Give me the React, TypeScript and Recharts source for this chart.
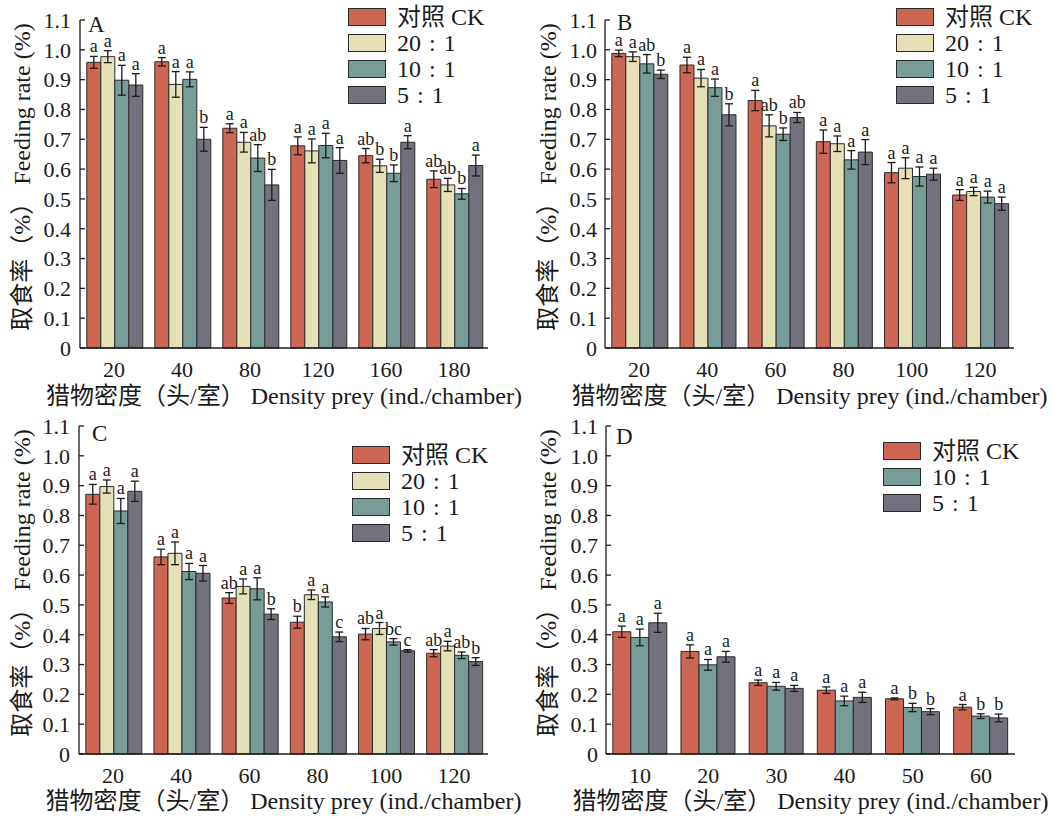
import { BarChart, Bar, XAxis, YAxis, ErrorBar, LabelList, Legend, Label } from "recharts";

const SERIF = "'Liberation Serif', 'Times New Roman', 'Noto Sans CJK SC', serif";
const INK = "#1a1a1a";

const COLORS: Record<string, string> = {
  ck: "#CE6654",
  r20: "#E6E0B6",
  r10: "#779D99",
  r5: "#73717D",
};
const NAMES: Record<string, string> = {
  ck: "对照 CK",
  r20: "20\u2004:\u20041",
  r10: "10\u2004:\u20041",
  r5: "5\u2004:\u20041",
};

const Y_TICKS = [0, 0.1, 0.2, 0.3, 0.4, 0.5, 0.6, 0.7, 0.8, 0.9, 1.0, 1.1];
const Y_TITLE = "取食率（%） Feeding rate (%)";
const X_TITLE = "猎物密度（头/室） Density prey (ind./chamber)";

// A
const densityA = ["20", "40", "80", "120", "160", "180"];
const ckA = [0.958, 0.96, 0.737, 0.678, 0.645, 0.566];
const ckErrA = [0.02, 0.014, 0.015, 0.03, 0.024, 0.028];
const ckSigA = ["a", "a", "a", "a", "ab", "ab"];
const r20A = [0.977, 0.884, 0.69, 0.661, 0.611, 0.547];
const r20ErrA = [0.02, 0.043, 0.033, 0.04, 0.022, 0.022];
const r20SigA = ["a", "a", "a", "a", "b", "ab"];
const r10A = [0.898, 0.901, 0.637, 0.679, 0.586, 0.517];
const r10ErrA = [0.05, 0.025, 0.045, 0.041, 0.028, 0.018];
const r10SigA = ["a", "a", "ab", "a", "b", "b"];
const r5A = [0.882, 0.7, 0.547, 0.629, 0.69, 0.612];
const r5ErrA = [0.038, 0.04, 0.052, 0.043, 0.022, 0.035];
const r5SigA = ["a", "b", "b", "a", "a", "a"];

// B
const densityB = ["20", "40", "60", "80", "100", "120"];
const ckB = [0.988, 0.949, 0.83, 0.692, 0.588, 0.513];
const ckErrB = [0.011, 0.026, 0.034, 0.039, 0.034, 0.018];
const ckSigB = ["a", "a", "a", "a", "a", "a"];
const r20B = [0.977, 0.905, 0.745, 0.685, 0.603, 0.525];
const r20ErrB = [0.016, 0.029, 0.037, 0.026, 0.035, 0.014];
const r20SigB = ["a", "a", "ab", "a", "a", "a"];
const r10B = [0.953, 0.873, 0.717, 0.631, 0.575, 0.506];
const r10ErrB = [0.031, 0.029, 0.021, 0.031, 0.032, 0.02];
const r10SigB = ["ab", "a", "b", "a", "a", "a"];
const r5B = [0.918, 0.782, 0.773, 0.657, 0.583, 0.484];
const r5ErrB = [0.014, 0.037, 0.017, 0.042, 0.02, 0.022];
const r5SigB = ["b", "b", "ab", "a", "a", "a"];

// C
const densityC = ["20", "40", "60", "80", "100", "120"];
const ckC = [0.871, 0.661, 0.523, 0.442, 0.402, 0.338];
const ckErrC = [0.033, 0.026, 0.018, 0.02, 0.019, 0.012];
const ckSigC = ["a", "a", "ab", "b", "ab", "ab"];
const r20C = [0.897, 0.673, 0.562, 0.534, 0.421, 0.362];
const r20ErrC = [0.022, 0.038, 0.025, 0.016, 0.02, 0.016];
const r20SigC = ["a", "a", "a", "a", "a", "a"];
const r10C = [0.815, 0.612, 0.554, 0.51, 0.376, 0.331];
const r10ErrC = [0.042, 0.027, 0.037, 0.017, 0.011, 0.011];
const r10SigC = ["a", "a", "a", "a", "bc", "ab"];
const r5C = [0.881, 0.606, 0.469, 0.393, 0.346, 0.31];
const r5ErrC = [0.034, 0.026, 0.018, 0.016, 0.004, 0.013];
const r5SigC = ["a", "a", "b", "c", "c", "b"];

// D
const densityD = ["10", "20", "30", "40", "50", "60"];
const ckD = [0.41, 0.344, 0.239, 0.214, 0.185, 0.157];
const ckErrD = [0.019, 0.022, 0.009, 0.011, 0.003, 0.009];
const ckSigD = ["a", "a", "a", "a", "a", "a"];
const r10D = [0.391, 0.299, 0.227, 0.178, 0.156, 0.127];
const r10ErrD = [0.028, 0.018, 0.013, 0.016, 0.014, 0.008];
const r10SigD = ["a", "a", "a", "a", "b", "b"];
const r5D = [0.44, 0.326, 0.22, 0.19, 0.142, 0.121];
const r5ErrD = [0.032, 0.018, 0.01, 0.017, 0.01, 0.013];
const r5SigD = ["a", "a", "a", "a", "b", "b"];

type Series = { key: string; values: number[]; errors: number[]; letters: string[] };

type Layout = {
  left: number;
  top: number;
  axisW: number;
  mTop: number;
  mRight: number;
  xH: number;
  legendX: number;
  legendY: number;
  tagX: number;
  tagY: number;
  yTitleX: number;
  xTitleDy: number;
  tickGap: number;
};

function buildRows(categories: string[], series: Series[]) {
  return categories.map((density, i) => {
    const row: Record<string, string | number> = { density };
    series.forEach((s) => {
      row[s.key] = s.values[i];
      row[s.key + "Err"] = s.errors[i];
      row[s.key + "Sig"] = s.letters[i];
    });
    return row;
  });
}

// significance letter sits just above the error bar cap
const sigLabel = (rows: Record<string, string | number>[], key: string) => (props: any) => {
  const { x, y, width, height, index, value } = props;
  const v = Number(rows[index][key]);
  const e = Number(rows[index][key + "Err"]);
  const errPx = v > 0 ? (e * Number(height)) / v : 0;
  return (
    <text
      x={Number(x) + Number(width) / 2}
      y={Number(y) - errPx - 4}
      textAnchor="middle"
      fontFamily={SERIF}
      fontSize={18}
      fill={INK}
    >
      {value}
    </text>
  );
};

function Panel({ tag, categories, series, layout }: { tag: string; categories: string[]; series: Series[]; layout: Layout }) {
  const rows = buildRows(categories, series);
  const L = layout;

  const legendContent = () => (
    <div style={{ fontFamily: SERIF, fontSize: 24, color: INK }}>
      {series.map((s) => (
        <div key={s.key} style={{ display: "flex", alignItems: "center", height: 26 }}>
          <span
            style={{
              width: 38,
              height: 18,
              background: COLORS[s.key],
              border: "1.5px solid #2a2a2a",
              boxSizing: "border-box",
              display: "inline-block",
            }}
          />
          <span style={{ marginLeft: 11, lineHeight: "26px", whiteSpace: "nowrap" }}>{NAMES[s.key]}</span>
        </div>
      ))}
    </div>
  );

  const yTitle = (props: any) => {
    const vb = props.viewBox || {};
    const cy = vb.y + vb.height / 2 - 7;
    return (
      <g>
        <text
          transform={`translate(${L.yTitleX},${cy}) rotate(-90)`}
          textAnchor="middle"
          dominantBaseline="central"
          fontFamily={SERIF}
          fontSize={24}
          fill={INK}
        >
          {Y_TITLE}
        </text>
        <text x={L.tagX} y={L.tagY} fontFamily={SERIF} fontSize={23} fill={INK}>
          {tag}
        </text>
      </g>
    );
  };

  const xTitle = (props: any) => {
    const vb = props.viewBox || {};
    return (
      <text
        x={vb.x + vb.width / 2}
        y={vb.y + L.xTitleDy}
        textAnchor="middle"
        fontFamily={SERIF}
        fontSize={24}
        fill={INK}
      >
        {X_TITLE}
      </text>
    );
  };

  return (
    <div style={{ position: "absolute", left: L.left, top: L.top }}>
      <BarChart
        width={531}
        height={409}
        data={rows}
        margin={{ top: L.mTop, right: L.mRight, bottom: 0, left: 0 }}
        barCategoryGap="10%"
        barGap={0}
      >
        <XAxis
          dataKey="density"
          height={L.xH}
          tickLine={false}
          tickSize={0}
          tickMargin={13}
          axisLine={{ stroke: INK, strokeWidth: 1.3 }}
          tick={{ fill: INK, fontSize: 22, fontFamily: SERIF }}
          interval={0}
        >
          <Label content={xTitle} />
        </XAxis>
        <YAxis
          width={L.axisW}
          domain={[0, 1.1]}
          ticks={Y_TICKS}
          interval={0}
          tickSize={-5}
          tickMargin={L.tickGap}
          tickFormatter={(v: number) => (v === 0 ? "0" : v.toFixed(1))}
          axisLine={{ stroke: INK, strokeWidth: 1.3 }}
          tickLine={{ stroke: INK, strokeWidth: 1.3 }}
          tick={{ fill: INK, fontSize: 22, fontFamily: SERIF }}
        >
          <Label content={yTitle} />
        </YAxis>
        <Legend
          layout="vertical"
          align="center"
          verticalAlign="middle"
          content={legendContent}
          wrapperStyle={{ left: L.legendX, top: L.legendY, width: "auto", height: "auto" }}
        />
        {series.map((s) => (
          <Bar
            key={s.key}
            dataKey={s.key}
            name={NAMES[s.key]}
            fill={COLORS[s.key]}
            stroke="#2a2a2a"
            strokeWidth={1}
            isAnimationActive={false}
          >
            <ErrorBar
              dataKey={s.key + "Err"}
              direction="y"
              width={4}
              stroke="#1a1a1a"
              strokeWidth={1.3}
              isAnimationActive={false}
            />
            <LabelList dataKey={s.key + "Sig"} content={sigLabel(rows, s.key)} />
          </Bar>
        ))}
      </BarChart>
    </div>
  );
}

const seriesA: Series[] = [
  { key: "ck", values: ckA, errors: ckErrA, letters: ckSigA },
  { key: "r20", values: r20A, errors: r20ErrA, letters: r20SigA },
  { key: "r10", values: r10A, errors: r10ErrA, letters: r10SigA },
  { key: "r5", values: r5A, errors: r5ErrA, letters: r5SigA },
];
const seriesB: Series[] = [
  { key: "ck", values: ckB, errors: ckErrB, letters: ckSigB },
  { key: "r20", values: r20B, errors: r20ErrB, letters: r20SigB },
  { key: "r10", values: r10B, errors: r10ErrB, letters: r10SigB },
  { key: "r5", values: r5B, errors: r5ErrB, letters: r5SigB },
];
const seriesC: Series[] = [
  { key: "ck", values: ckC, errors: ckErrC, letters: ckSigC },
  { key: "r20", values: r20C, errors: r20ErrC, letters: r20SigC },
  { key: "r10", values: r10C, errors: r10ErrC, letters: r10SigC },
  { key: "r5", values: r5C, errors: r5ErrC, letters: r5SigC },
];
const seriesD: Series[] = [
  { key: "ck", values: ckD, errors: ckErrD, letters: ckSigD },
  { key: "r10", values: r10D, errors: r10ErrD, letters: r10SigD },
  { key: "r5", values: r5D, errors: r5ErrD, letters: r5SigD },
];

export default function App() {
  return (
    <div style={{ position: "absolute", left: 0, top: 0, width: 1062, height: 818, background: "#fff" }}>
      <Panel
        tag="A"
        categories={densityA}
        series={seriesA}
        layout={{ left: 0, top: 0, axisW: 80, mTop: 20, mRight: 43, xH: 61, legendX: 348, legendY: 4, tagX: 88, tagY: 32, yTitleX: 22, xTitleDy: 56, tickGap: 14 }}
      />
      <Panel
        tag="B"
        categories={densityB}
        series={seriesB}
        layout={{ left: 531, top: 0, axisW: 74, mTop: 20, mRight: 48, xH: 61, legendX: 365, legendY: 4, tagX: 86, tagY: 30, yTitleX: 17, xTitleDy: 56, tickGap: 13 }}
      />
      <Panel
        tag="C"
        categories={densityC}
        series={seriesC}
        layout={{ left: 0, top: 409, axisW: 79, mTop: 17, mRight: 43, xH: 64, legendX: 352, legendY: 33, tagX: 92, tagY: 32, yTitleX: 22, xTitleDy: 55, tickGap: 14 }}
      />
      <Panel
        tag="D"
        categories={densityD}
        series={seriesD}
        layout={{ left: 531, top: 409, axisW: 75, mTop: 17, mRight: 47, xH: 64, legendX: 352, legendY: 29, tagX: 85, tagY: 35, yTitleX: 17, xTitleDy: 55, tickGap: 13 }}
      />
    </div>
  );
}
